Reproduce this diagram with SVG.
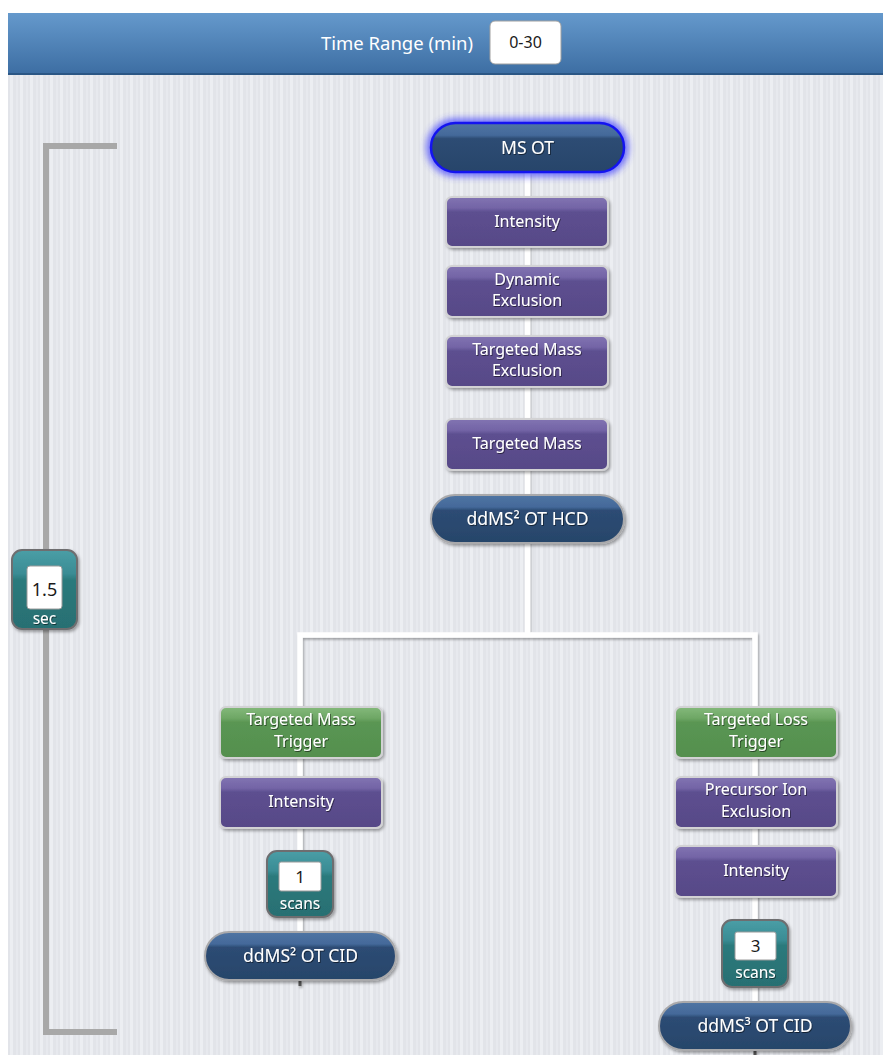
<svg xmlns="http://www.w3.org/2000/svg" width="883" height="1055" viewBox="0 0 883 1055">
  <defs>
    <pattern id="stripes" width="10" height="10" patternUnits="userSpaceOnUse">
      <rect width="10" height="10" fill="#e2e4e9"/>
      <rect x="0" width="3" height="10" fill="#eceef2"/>
      <rect x="6" width="2" height="10" fill="#e7e9ee"/>
    </pattern>
    <linearGradient id="hdr" x1="0" y1="0" x2="0" y2="1">
      <stop offset="0" stop-color="#6599cc"/>
      <stop offset="1" stop-color="#3c6da2"/>
    </linearGradient>
    <linearGradient id="purple" x1="0" y1="0" x2="0" y2="1">
      <stop offset="0" stop-color="#8274b2"/>
      <stop offset="0.22" stop-color="#7364a6"/>
      <stop offset="0.3" stop-color="#5d4f90"/>
      <stop offset="1" stop-color="#574987"/>
    </linearGradient>
    <linearGradient id="green" x1="0" y1="0" x2="0" y2="1">
      <stop offset="0" stop-color="#84b97b"/>
      <stop offset="0.22" stop-color="#6ea765"/>
      <stop offset="0.3" stop-color="#5a9653"/>
      <stop offset="1" stop-color="#548f4e"/>
    </linearGradient>
    <linearGradient id="navy" x1="0" y1="0" x2="0" y2="1">
      <stop offset="0" stop-color="#5075a3"/>
      <stop offset="0.25" stop-color="#44699a"/>
      <stop offset="0.32" stop-color="#2d4c74"/>
      <stop offset="1" stop-color="#27456a"/>
    </linearGradient>
    <linearGradient id="teal" x1="0" y1="0" x2="0" y2="1">
      <stop offset="0" stop-color="#4a9ea6"/>
      <stop offset="0.3" stop-color="#3a8c94"/>
      <stop offset="0.38" stop-color="#2b7a7c"/>
      <stop offset="1" stop-color="#286f72"/>
    </linearGradient>
    <filter id="shadow" x="-15%" y="-20%" width="135%" height="160%">
      <feDropShadow dx="1.5" dy="2" stdDeviation="1.6" flood-color="#000" flood-opacity="0.35"/>
    </filter>
    <filter id="lineShadow" x="-5%" y="-5%" width="110%" height="110%">
      <feDropShadow dx="1" dy="2" stdDeviation="1.2" flood-color="#000" flood-opacity="0.3"/>
    </filter>
    <filter id="tshadow" x="-10%" y="-30%" width="120%" height="160%">
      <feDropShadow dx="0.8" dy="1" stdDeviation="0.6" flood-color="#000" flood-opacity="0.55"/>
    </filter>
    <filter id="glow" x="-20%" y="-50%" width="140%" height="200%">
      <feGaussianBlur stdDeviation="3.5"/>
    </filter>
  </defs>
  <style>
    .lbl { font-family: "Noto Sans", "Open Sans", sans-serif; font-size: 16px; fill: #ffffff; text-anchor: middle; filter: url(#tshadow); }
    .big { font-size: 17.5px; }
    .unit { font-size: 15.5px; }
    .num { font-family: "Noto Sans", "Open Sans", sans-serif; font-size: 17px; fill: #1a1a1a; text-anchor: middle; }
    .filt { fill: url(#purple); stroke: #d2d2d4; stroke-width: 2; filter: url(#shadow); }
    .trig { fill: url(#green); stroke: #d2d2d4; stroke-width: 2; filter: url(#shadow); }
    .pill { fill: url(#navy); stroke: #a9a9ab; stroke-width: 2; filter: url(#shadow); }
    .cnt { fill: url(#teal); stroke: #6e6e70; stroke-width: 2; filter: url(#shadow); }
    .field { fill: #ffffff; stroke: #9a9a9a; stroke-width: 1; }
    .wire { stroke: #ffffff; stroke-width: 5.5; fill: none; }
  </style>

  <!-- canvas -->
  <rect x="0" y="0" width="883" height="1055" fill="#ffffff"/>
  <rect x="8" y="75" width="875" height="980" fill="url(#stripes)"/>

  <!-- header bar -->
  <g id="header">
    <rect x="8" y="13" width="875" height="62" fill="url(#hdr)"/>
    <rect x="8" y="73" width="875" height="2" fill="#2b5785"/>
    <text x="397" y="50" style="font-family:'Noto Sans','Open Sans',sans-serif;font-size:18.5px;fill:#ffffff;text-anchor:middle">Time Range (min)</text>
    <rect x="490" y="21" width="71" height="43" rx="5" fill="#ffffff" stroke="#a0a0a0" stroke-width="1"/>
    <text x="525.5" y="48" class="num" style="font-size:16px">0-30</text>
  </g>

  <!-- cycle-time bracket -->
  <g id="bracket">
    <polyline points="117,146 46,146 46,1032 117,1032" fill="none" stroke="#a8a8a8" stroke-width="6"/>
  </g>

  <!-- connectors -->
  <g id="connectors" filter="url(#lineShadow)">
    <line class="wire" x1="527.5" y1="172" x2="527.5" y2="635"/>
    <polyline class="wire" points="300,932 300,635 755,635 755,1002"/>
    <line x1="300" y1="980" x2="300" y2="986" stroke="#555" stroke-width="3"/>
    <line x1="755" y1="1050" x2="755" y2="1055" stroke="#555" stroke-width="3"/>
  </g>

  <!-- cycle time -->
  <g id="cycle-time">
    <rect class="cnt" x="12" y="550" width="65" height="79" rx="10"/>
    <rect class="field" x="27" y="566" width="35" height="43" rx="3"/>
    <text class="num" x="44.5" y="596" style="font-size:18px">1.5</text>
    <text class="lbl unit" x="44.5" y="624">sec</text>
  </g>

  <!-- main branch -->
  <g id="ms-ot">
    <rect x="431" y="123" width="193" height="49" rx="24.5" fill="none" stroke="#3a3aff" stroke-width="9" opacity="0.75" filter="url(#glow)"/>
    <rect x="431" y="123" width="193" height="49" rx="24.5" fill="url(#navy)" stroke="#1414f0" stroke-width="2.5"/>
    <text class="lbl big" x="527.5" y="154">MS OT</text>
  </g>
  <g id="intensity-1">
    <rect class="filt" x="446" y="197" width="162" height="50" rx="6"/>
    <text class="lbl" x="527" y="227">Intensity</text>
  </g>
  <g id="dynamic-exclusion">
    <rect class="filt" x="446" y="266" width="162" height="51" rx="6"/>
    <text class="lbl" x="527" y="285">Dynamic</text>
    <text class="lbl" x="527" y="306">Exclusion</text>
  </g>
  <g id="targeted-mass-exclusion">
    <rect class="filt" x="446" y="336" width="162" height="51" rx="6"/>
    <text class="lbl" x="527" y="355">Targeted Mass</text>
    <text class="lbl" x="527" y="376">Exclusion</text>
  </g>
  <g id="targeted-mass">
    <rect class="filt" x="446" y="419" width="162" height="51" rx="6"/>
    <text class="lbl" x="527" y="449">Targeted Mass</text>
  </g>
  <g id="ddms2-hcd">
    <rect class="pill" x="431" y="495" width="193" height="48" rx="24"/>
    <text class="lbl big" x="527.5" y="525">ddMS² OT HCD</text>
  </g>

  <!-- left branch -->
  <g id="targeted-mass-trigger">
    <rect class="trig" x="220" y="707" width="162" height="51" rx="6"/>
    <text class="lbl" x="301" y="725">Targeted Mass</text>
    <text class="lbl" x="301" y="747">Trigger</text>
  </g>
  <g id="intensity-2">
    <rect class="filt" x="220" y="777" width="162" height="51" rx="6"/>
    <text class="lbl" x="301" y="807">Intensity</text>
  </g>
  <g id="scans-1">
    <rect class="cnt" x="267" y="851" width="66" height="66" rx="10"/>
    <rect class="field" x="279" y="862" width="42" height="29" rx="2"/>
    <text class="num" x="300" y="883">1</text>
    <text class="lbl unit" x="300" y="909">scans</text>
  </g>
  <g id="ddms2-cid">
    <rect class="pill" x="205" y="932" width="191" height="48" rx="24"/>
    <text class="lbl big" x="300.5" y="962">ddMS² OT CID</text>
  </g>

  <!-- right branch -->
  <g id="targeted-loss-trigger">
    <rect class="trig" x="675" y="707" width="162" height="51" rx="6"/>
    <text class="lbl" x="756" y="725">Targeted Loss</text>
    <text class="lbl" x="756" y="747">Trigger</text>
  </g>
  <g id="precursor-ion-exclusion">
    <rect class="filt" x="675" y="777" width="162" height="51" rx="6"/>
    <text class="lbl" x="756" y="795">Precursor Ion</text>
    <text class="lbl" x="756" y="817">Exclusion</text>
  </g>
  <g id="intensity-3">
    <rect class="filt" x="675" y="846" width="162" height="51" rx="6"/>
    <text class="lbl" x="756" y="876">Intensity</text>
  </g>
  <g id="scans-3">
    <rect class="cnt" x="722" y="920" width="66" height="67" rx="10"/>
    <rect class="field" x="735" y="932" width="41" height="28" rx="2"/>
    <text class="num" x="755.5" y="952">3</text>
    <text class="lbl unit" x="755.5" y="978">scans</text>
  </g>
  <g id="ddms3-cid">
    <rect class="pill" x="659" y="1002" width="192" height="48" rx="24"/>
    <text class="lbl big" x="755" y="1032">ddMS³ OT CID</text>
  </g>
</svg>
